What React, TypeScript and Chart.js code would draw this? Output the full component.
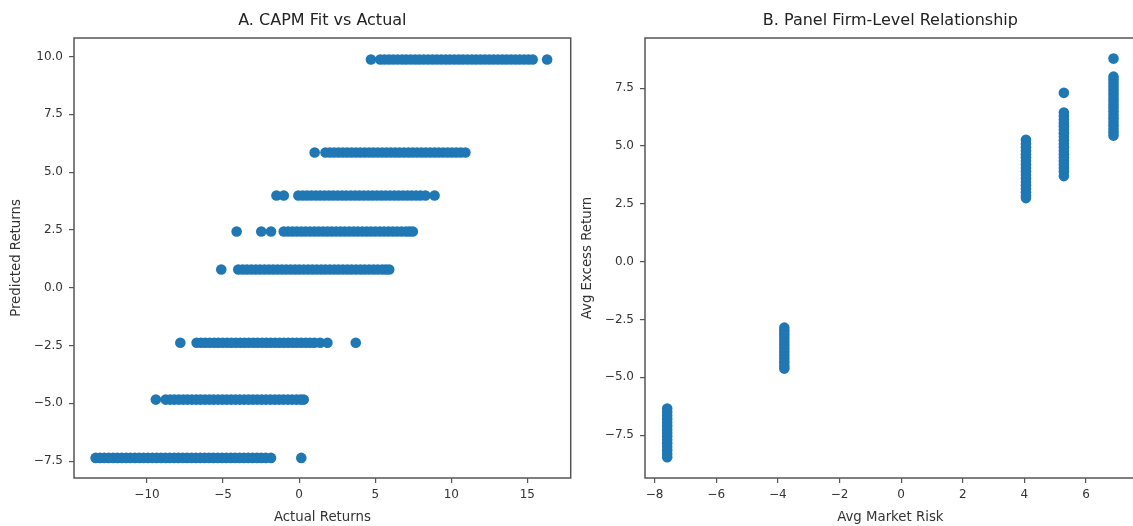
import React, { useEffect, useRef } from "react";
import { Chart, registerables } from "chart.js";

Chart.register(...registerables);

// ---------- Panel A: CAPM fit vs actual ----------
const predictedLevels = [9.87, 5.85, 3.99, 2.43, 0.79, -2.38, -4.84, -7.36];

const actualAt9_87 = [4.72, 5.33, 5.61, 5.9, 6.18, 6.47, 6.77, 7.04, 7.33, 7.62, 7.9, 8.19, 8.48, 8.76, 9.05, 9.34, 9.63, 9.91, 10.2, 10.49, 10.77, 11.06, 11.35, 11.63, 11.92, 12.21, 12.5, 12.78, 13.07, 13.36, 13.64, 13.93, 14.22, 14.5, 14.79, 15.07, 15.35, 16.3];
const actualAt5_85 = [1.02, 1.73, 2.02, 2.3, 2.59, 2.88, 3.16, 3.45, 3.74, 4.02, 4.31, 4.6, 4.88, 5.17, 5.46, 5.74, 6.03, 6.32, 6.6, 6.89, 7.18, 7.46, 7.75, 8.04, 8.32, 8.61, 8.9, 9.18, 9.47, 9.76, 10.04, 10.33, 10.62, 10.93];
const actualAt3_99 = [-1.49, -1.01, -0.05, 0.24, 0.52, 0.81, 1.1, 1.38, 1.67, 1.96, 2.24, 2.53, 2.82, 3.1, 3.39, 3.68, 3.96, 4.25, 4.54, 4.82, 5.11, 5.4, 5.68, 5.97, 6.26, 6.54, 6.83, 7.12, 7.4, 7.69, 7.98, 8.3, 8.9];
const actualAt2_43 = [-4.11, -2.49, -1.85, -1.01, -0.72, -0.44, -0.15, 0.14, 0.42, 0.71, 1.0, 1.28, 1.57, 1.86, 2.14, 2.43, 2.72, 3.0, 3.29, 3.58, 3.86, 4.15, 4.44, 4.72, 5.01, 5.3, 5.58, 5.87, 6.16, 6.44, 6.73, 7.02, 7.25, 7.47];
const actualAt0_79 = [-5.12, -4.0, -3.71, -3.43, -3.14, -2.85, -2.57, -2.28, -1.99, -1.71, -1.42, -1.13, -0.85, -0.56, -0.27, 0.01, 0.3, 0.59, 0.87, 1.16, 1.45, 1.73, 2.02, 2.31, 2.59, 2.88, 3.17, 3.45, 3.74, 4.03, 4.31, 4.6, 4.89, 5.17, 5.46, 5.7, 5.92];
const actualAtM2_38 = [-7.81, -6.74, -6.45, -6.17, -5.88, -5.59, -5.31, -5.02, -4.73, -4.45, -4.16, -3.87, -3.59, -3.3, -3.01, -2.73, -2.44, -2.15, -1.87, -1.58, -1.29, -1.01, -0.72, -0.43, -0.15, 0.14, 0.43, 0.71, 1.0, 1.38, 1.86, 3.72];
const actualAtM4_84 = [-9.42, -8.77, -8.48, -8.2, -7.91, -7.62, -7.34, -7.05, -6.76, -6.48, -6.19, -5.9, -5.62, -5.33, -5.04, -4.76, -4.47, -4.18, -3.9, -3.61, -3.32, -3.04, -2.75, -2.46, -2.18, -1.89, -1.6, -1.32, -1.03, -0.74, -0.46, -0.17, 0.1, 0.3];
const actualAtM7_36 = [-13.38, -13.09, -12.81, -12.52, -12.23, -11.95, -11.66, -11.37, -11.09, -10.8, -10.51, -10.23, -9.94, -9.65, -9.37, -9.08, -8.79, -8.51, -8.22, -7.93, -7.65, -7.36, -7.07, -6.79, -6.5, -6.21, -5.93, -5.64, -5.35, -5.07, -4.78, -4.49, -4.21, -3.92, -3.63, -3.35, -3.06, -2.77, -2.49, -2.2, -1.85, 0.14];

const actualRows = [actualAt9_87, actualAt5_85, actualAt3_99, actualAt2_43, actualAt0_79, actualAtM2_38, actualAtM4_84, actualAtM7_36];

const aXTicks = [-10, -5, 0, 5, 10, 15];
const aYTicks = [-7.5, -5, -2.5, 0, 2.5, 5, 7.5, 10];

// ---------- Panel B: firm-level relationship ----------
const marketRisk = [-7.59, -3.79, 4.05, 5.28, 6.89];

const excessAtM7_59 = [-6.35, -6.5, -6.65, -6.8, -6.95, -7.1, -7.25, -7.4, -7.55, -7.7, -7.85, -8.0, -8.15, -8.3, -8.45];
const excessAtM3_79 = [-2.85, -3.0, -3.15, -3.3, -3.45, -3.6, -3.75, -3.9, -4.05, -4.2, -4.35, -4.5, -4.62];
const excessAt4_05 = [5.27, 5.1, 4.95, 4.8, 4.65, 4.5, 4.35, 4.2, 4.05, 3.9, 3.75, 3.6, 3.45, 3.3, 3.15, 3.0, 2.85, 2.75];
const excessAt5_28 = [7.3, 6.45, 6.3, 6.15, 6.0, 5.85, 5.7, 5.55, 5.4, 5.25, 5.1, 4.95, 4.8, 4.65, 4.5, 4.35, 4.2, 4.05, 3.9, 3.7];
const excessAt6_89 = [8.78, 8.0, 7.85, 7.7, 7.55, 7.4, 7.25, 7.1, 6.95, 6.8, 6.65, 6.5, 6.35, 6.2, 6.05, 5.9, 5.75, 5.6, 5.45];

const excessCols = [excessAtM7_59, excessAtM3_79, excessAt4_05, excessAt5_28, excessAt6_89];

const bXTicks = [-8, -6, -4, -2, 0, 2, 4, 6];
const bYTicks = [-7.5, -5, -2.5, 0, 2.5, 5, 7.5];

// ---------- styling ----------
const FONT = "'DejaVu Sans', sans-serif";
const BLUE = "#1f77b4";
const AXIS = "#555";
const TEXT = "#333";
const H = 526;

const minus = (s: string) => s.replace("-", "\u2212");
const fmtInt = (v: any) => minus(String(Math.round(Number(v))));
const fmtDec = (v: any) => minus(Number(v).toFixed(1));

const boxPlugin = {
  id: "axesBox",
  afterDatasetsDraw(chart: any) {
    const { ctx, chartArea } = chart;
    ctx.save();
    ctx.strokeStyle = AXIS;
    ctx.lineWidth = 1.5;
    ctx.strokeRect(chartArea.left, chartArea.top, chartArea.right - chartArea.left, chartArea.bottom - chartArea.top);
    ctx.restore();
  },
};

function buildConfig(o: {
  points: { x: number; y: number }[];
  title: string;
  xTitle: string;
  yTitle: string;
  xMin: number; xMax: number; yMin: number; yMax: number;
  xTicks: number[]; yTicks: number[];
  yWidth: number; yTitlePad: number;
}): any {
  return {
    type: "scatter",
    data: {
      datasets: [
        {
          data: o.points,
          backgroundColor: BLUE,
          borderWidth: 0,
          pointRadius: 5.3,
          pointHoverRadius: 5.3,
        },
      ],
    },
    options: {
      responsive: false,
      animation: false,
      events: [],
      layout: { padding: 0 },
      plugins: {
        legend: { display: false },
        tooltip: { enabled: false },
        title: {
          display: true,
          text: o.title,
          fullSize: false,
          color: "#222",
          font: { family: FONT, size: 16, weight: "normal" },
          padding: { top: 11.4, bottom: 7.4 },
        },
      },
      scales: {
        x: {
          type: "linear",
          min: o.xMin,
          max: o.xMax,
          afterBuildTicks: (s: any) => { s.ticks = o.xTicks.map((v) => ({ value: v })); },
          afterFit: (s: any) => { s.height = 48; },
          grid: { display: true, drawOnChartArea: false, drawTicks: true, tickLength: 5, color: AXIS, lineWidth: 1.2 },
          border: { display: false },
          ticks: { color: TEXT, font: { family: FONT, size: 12 }, padding: 5, maxRotation: 0, autoSkip: false, callback: fmtInt },
          title: { display: true, text: o.xTitle, color: TEXT, font: { family: FONT, size: 13.3 }, padding: { top: 0, bottom: 0 } },
        },
        y: {
          type: "linear",
          min: o.yMin,
          max: o.yMax,
          afterBuildTicks: (s: any) => { s.ticks = o.yTicks.map((v) => ({ value: v })); },
          afterFit: (s: any) => { s.width = o.yWidth; },
          grid: { display: true, drawOnChartArea: false, drawTicks: true, tickLength: 5, color: AXIS, lineWidth: 1.2 },
          border: { display: false },
          ticks: { color: TEXT, font: { family: FONT, size: 12 }, padding: 6, autoSkip: false, callback: fmtDec },
          title: { display: true, text: o.yTitle, color: TEXT, font: { family: FONT, size: 13.3 }, padding: { top: o.yTitlePad, bottom: 0 } },
        },
      },
    },
    plugins: [boxPlugin],
  };
}

function Panel({ left, width, config }: { left: number; width: number; config: any }) {
  const ref = useRef<HTMLCanvasElement>(null);
  useEffect(() => {
    const chart = new Chart(ref.current as HTMLCanvasElement, config);
    return () => chart.destroy();
  }, []);
  return (
    <div style={{ position: "absolute", left, top: 0, width, height: H }}>
      <canvas ref={ref} width={width} height={H} style={{ width, height: H, display: "block" }} />
    </div>
  );
}

export default function App() {
  const pointsA: { x: number; y: number }[] = [];
  actualRows.forEach((row, i) => row.forEach((x) => pointsA.push({ x, y: predictedLevels[i] })));
  const pointsB: { x: number; y: number }[] = [];
  excessCols.forEach((col, i) => col.forEach((y) => pointsB.push({ x: marketRisk[i], y })));

  const cfgA = buildConfig({
    points: pointsA,
    title: "A. CAPM Fit vs Actual",
    xTitle: "Actual Returns",
    yTitle: "Predicted Returns",
    xMin: -14.8, xMax: 17.85, yMin: -8.23, yMax: 10.8,
    xTicks: aXTicks, yTicks: aYTicks,
    yWidth: 74, yTitlePad: 9,
  });
  const cfgB = buildConfig({
    points: pointsB,
    title: "B. Panel Firm-Level Relationship",
    xTitle: "Avg Market Risk",
    yTitle: "Avg Excess Return",
    xMin: -8.31, xMax: 7.61, yMin: -9.35, yMax: 9.67,
    xTicks: bXTicks, yTicks: bYTicks,
    yWidth: 70, yTitlePad: 5,
  });

  return (
    <div style={{ position: "absolute", left: 0, top: 0, width: 1133, height: H, overflow: "hidden", background: "#fff" }}>
      <Panel left={0} width={576} config={cfgA} />
      <Panel left={575} width={566} config={cfgB} />
    </div>
  );
}
